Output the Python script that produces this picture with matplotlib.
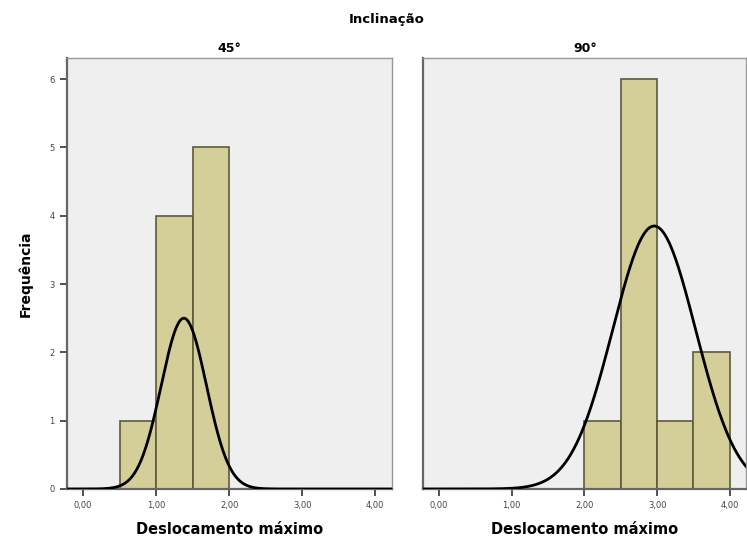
import numpy as np
import matplotlib.pyplot as plt

plt.rcParams['font.family'] = ['DejaVu Sans']

# histogram bins (Deslocamento máximo) and counts for each inclination
bin_edges = [0.0, 0.5, 1.0, 1.5, 2.0, 2.5, 3.0, 3.5, 4.0]
counts_45 = [0, 1, 4, 5, 0, 0, 0, 0]
counts_90 = [0, 0, 0, 0, 1, 6, 1, 2]

# fitted normal curve: mean, std, peak height
curve_45 = (1.38, 0.31, 2.5)
curve_90 = (2.96, 0.57, 3.85)

panel_titles = ['45°', '90°']
xticks = [0, 1, 2, 3, 4]
xtick_labels = ['0,00', '1,00', '2,00', '3,00', '4,00']
yticks = [0, 1, 2, 3, 4, 5, 6]

fig = plt.figure(figsize=(7.47, 5.48), dpi=100)
ax1 = fig.add_axes([0.0897, 0.1077, 0.435, 0.7865])
ax2 = fig.add_axes([0.5663, 0.1077, 0.433, 0.7865])

xs = np.linspace(-0.3, 4.4, 400)
for ax, counts, curve, title in zip([ax1, ax2], [counts_45, counts_90],
                                    [curve_45, curve_90], panel_titles):
    ax.set_facecolor('#efefef')
    left = bin_edges[:-1]
    widths = np.diff(bin_edges)
    for l, w, c in zip(left, widths, counts):
        if c > 0:
            ax.bar(l, c, width=w, align='edge', color='#d4cf98',
                   edgecolor='#5c5a3c', linewidth=1.2, zorder=2)
    mu, sd, peak = curve
    ax.plot(xs, peak * np.exp(-(xs - mu) ** 2 / (2 * sd ** 2)),
            color='black', lw=2, zorder=3)
    ax.set_xlim(-0.22, 4.23)
    ax.set_ylim(0, 6.31)
    ax.set_xticks(xticks)
    ax.set_xticklabels(xtick_labels)
    ax.set_yticks(yticks)
    ax.tick_params(direction='out', length=5, width=1.2, color='#333333',
                   labelsize=6, labelcolor='#444444', pad=4)
    ax.set_title(title, fontsize=9, fontweight='bold', pad=4)
    ax.set_xlabel('Deslocamento máximo', fontsize=10.5, fontweight='bold',
                  labelpad=8)
    for side in ['top', 'right']:
        ax.spines[side].set_color('#999999')
        ax.spines[side].set_linewidth(1.0)
    for side in ['left', 'bottom']:
        ax.spines[side].set_color('#666666')
        ax.spines[side].set_linewidth(1.6)

ax2.tick_params(axis='y', left=False, labelleft=False)
ax1.set_ylabel('Frequência', fontsize=10, fontweight='bold', labelpad=12)

fig.text(0.518, 0.965, 'Inclinação', ha='center', va='center',
         fontsize=9.5, fontweight='bold')

plt.savefig('out.png', dpi=100)
